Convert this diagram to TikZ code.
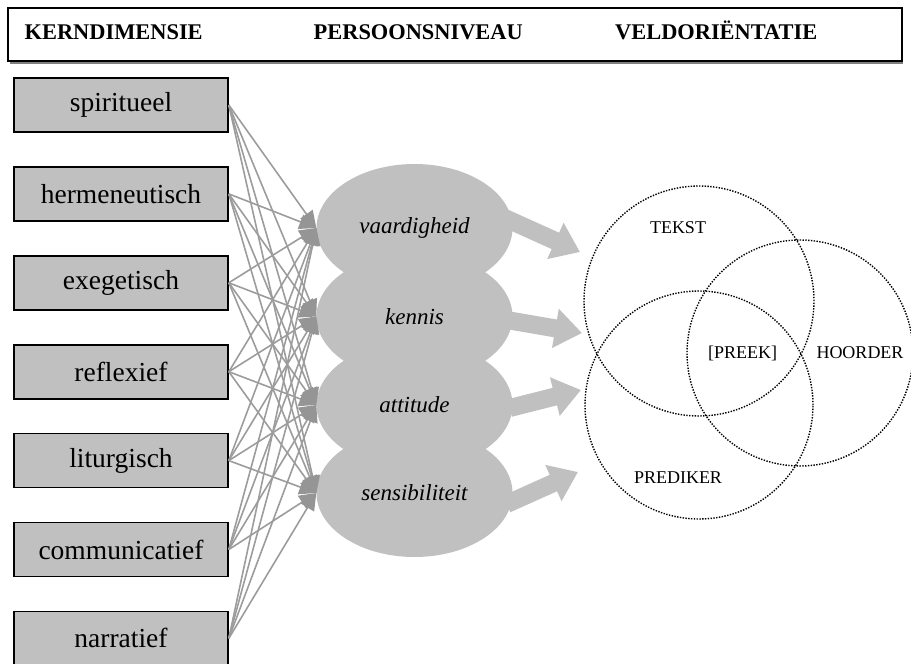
\documentclass[tikz,border=0pt]{standalone}
\usepackage{fontspec}
\setmainfont{Liberation Serif}
\usetikzlibrary{arrows.meta,shapes.geometric}

\definecolor{fillgray}{HTML}{C0C0C0}
\definecolor{wiregray}{HTML}{9C9C9C}
\definecolor{tipgray}{HTML}{959595}

\begin{document}
\begin{tikzpicture}[x=1pt,y=-1pt,
  headtext/.style={anchor=base west,inner sep=0pt,font=\fontsize{22.4}{24}\selectfont\bfseries},
  dimbox/.style={draw=black,line width=1.6pt,fill=fillgray,minimum width=214pt,
    minimum height=54pt,inner sep=0pt,font=\fontsize{27.5}{30}\selectfont},
  levelnode/.style={ellipse,fill=fillgray,minimum width=196pt,minimum height=128pt,
    inner sep=0pt},
  leveltext/.style={font=\fontsize{23}{26}\selectfont\itshape},
  wire/.style={draw=wiregray,line width=1.6pt,
    -{Triangle[length=17pt,width=15pt,color=tipgray]}},
  bigarrow/.style={draw=fillgray,line width=18pt,
    -{Triangle[length=27pt,width=38pt,color=fillgray]}},
  venn/.style={circle,draw=black,line width=1.4pt,dash pattern=on 1.4pt off 1.4pt,
    inner sep=0pt},
  vennlabel/.style={anchor=base,inner sep=0pt,font=\fontsize{18}{20}\selectfont},
]
\useasboundingbox (0,0) rectangle (911,664);

% header frame with its shadow
\draw[draw=gray,line width=2pt] (10,63) -- (903,63);
\draw[line width=2pt] (8,8) rectangle (902,61);
\node[headtext] (h1) at (24.5,39) {KERNDIMENSIE};
\node[headtext] (h2) at (313.5,39) {PERSOONSNIVEAU};
\node[headtext] (h3) at (615,39) {VELDORIËNTATIE};

% core dimensions
\foreach \name/\txt [count=\i from 0] in
  {d1/spiritueel,d2/hermeneutisch,d3/exegetisch,d4/reflexief,
   d5/liturgisch,d6/communicatief,d7/narratief}
  \node[dimbox] (\name) at (121,105+88.9*\i) {\txt};

% person levels
\node[levelnode] (p4) at (414.5,493) {};
\node[levelnode] (p3) at (414.5,405) {};
\node[levelnode] (p2) at (414.5,316.5) {};
\node[levelnode] (p1) at (414.5,228) {};
\node[leveltext] (t1) at (p1) {vaardigheid};
\node[leveltext] (t2) at (p2) {kennis};
\node[leveltext] (t3) at (p3) {attitude};
\node[leveltext] (t4) at (p4) {sensibiliteit};

% every dimension feeds every level
\foreach \d in {d1,d2,d3,d4,d5,d6,d7}
  \foreach \p in {p1,p2,p3,p4}
    \draw[wire] (\d.east) -- (\p.west);

% field orientation
\node[venn,minimum size=230pt] (tekst) at (699,301) {};
\node[venn,minimum size=228pt] (prediker) at (699,405) {};
\node[venn,minimum size=226pt] (hoorder) at (800,353) {};
\node[vennlabel] (lt) at (678,233) {TEKST};
\node[vennlabel] (lh) at (860,358) {HOORDER};
\node[vennlabel] (lp) at (742.5,358) {[PREEK]};
\node[vennlabel] (lr) at (678,483) {PREDIKER};

% levels pointing to the field
\coordinate (a1) at (580,252);
\coordinate (a2) at (582,333);
\coordinate (a3) at (581,390);
\coordinate (a4) at (578,472);
\draw[bigarrow] ([shift={(-8,-10)}]p1.east) -- (a1);
\draw[bigarrow] ([shift={(-3,4)}]p2.east) -- (a2);
\draw[bigarrow] ([shift={(-3,3)}]p3.east) -- (a3);
\draw[bigarrow] ([shift={(-6,11)}]p4.east) -- (a4);
\end{tikzpicture}
\end{document}
